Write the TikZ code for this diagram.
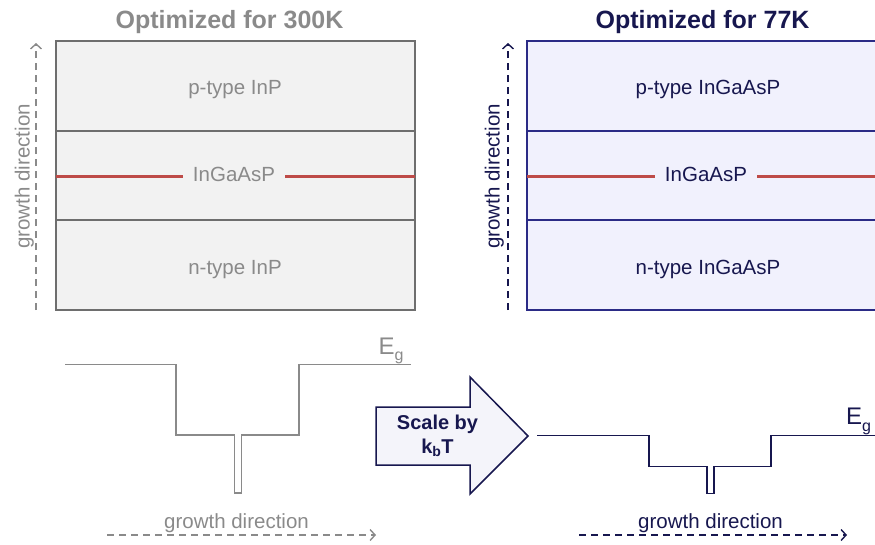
\documentclass[tikz,border=0pt]{standalone}
\usepackage{fontspec}
\setmainfont{Liberation Sans}
\usetikzlibrary{arrows.meta}
\definecolor{greytxt}{HTML}{8A8A8A}
\definecolor{greyline}{HTML}{6E6E6E}
\definecolor{greyfill}{HTML}{F2F2F2}
\definecolor{navytxt}{HTML}{17174F}
\definecolor{navyline}{HTML}{2B2B86}
\definecolor{navyfill}{HTML}{F1F1FD}
\definecolor{wellred}{HTML}{BE4B48}
\newcommand{\egap}{E\raisebox{-6.5pt}{\fontsize{16}{18}\selectfont g}}
\begin{document}
\begin{tikzpicture}[x=1pt,y=-1pt, line join=miter,
    title/.style={font=\fontsize{25}{28}\selectfont\bfseries, anchor=base, inner sep=0pt},
    layer/.style={font=\fontsize{20.5}{24}\selectfont, anchor=base, inner sep=0pt},
    midlayer/.style={layer, inner xsep=10pt},
    growth/.style={font=\fontsize{20.5}{24}\selectfont, anchor=base, inner sep=0pt},
    eglabel/.style={font=\fontsize{24}{26}\selectfont, anchor=base west, inner sep=0pt},
    gdir/.style={line width=1.4pt, dash pattern=on 7pt off 5pt, -{Straight Barb[length=5pt,width=11pt,line width=1.4pt]}},
    band/.style={line width=1.5pt}]
        \def\ytop{41} \def\ybot{310} \def\ya{131} \def\yb{220} \def\yc{176.5}
        \useasboundingbox (0,0) rectangle (875,544);
        % 300K stack
        \fill[greyfill] (56,\ytop) rectangle (415,\ybot);
        \draw[greyline, line width=1.6pt] (56,\ytop) rectangle (415,\ybot) (56,\ya) -- (415,\ya) (56,\yb) -- (415,\yb);
        \node[title, greytxt] (t300) at (229.5,28) {Optimized for 300K};
        \node[layer, greytxt] (p300) at (235,94) {p-type InP};
        \node[midlayer, greytxt] (a300) at (234,181) {InGaAsP};
        \node[layer, greytxt] (n300) at (235,274) {n-type InP};
        \draw[wellred, line width=2.5pt] (56,\yc) -- (a300.west |- 0,\yc) (a300.east |- 0,\yc) -- (415,\yc);
        \coordinate (v300a) at (36,310); \coordinate (v300b) at (36,43);
        \draw[gdir, greytxt] (v300a) -- (v300b);
        \node[growth, greytxt, rotate=90] (g300v) at (29.5,176.5) {growth direction};
        % 77K stack
        \fill[navyfill] (527,\ytop) rectangle (877,\ybot);
        \draw[navyline, line width=1.6pt] (877,\ytop) -- (527,\ytop) -- (527,\ybot) -- (877,\ybot) (527,\ya) -- (877,\ya) (527,\yb) -- (877,\yb);
        \node[title, navytxt] (t77) at (702.5,28) {Optimized for 77K};
        \node[layer, navytxt] (p77) at (708,94) {p-type InGaAsP};
        \node[midlayer, navytxt] (a77) at (706,181) {InGaAsP};
        \node[layer, navytxt] (n77) at (708,274) {n-type InGaAsP};
        \draw[wellred, line width=2.5pt] (527,\yc) -- (a77.west |- 0,\yc) (a77.east |- 0,\yc) -- (877,\yc);
        \coordinate (v77a) at (508,310); \coordinate (v77b) at (508,43);
        \draw[gdir, navytxt] (v77a) -- (v77b);
        \node[growth, navytxt, rotate=90] (g77v) at (499.5,176.5) {growth direction};
        % band edges
        \draw[band, greytxt] (65,364.7) -- (176,364.7) -- (176,435) -- (234.5,435) -- (234.5,493) -- (241.5,493) -- (241.5,435) -- (299,435) -- (299,364.7) -- (411,364.7);
        \node[eglabel, greytxt] (eg300) at (378.5,354) {\egap};
        \draw[band, navytxt] (537,435.3) -- (649,435.3) -- (649,466.7) -- (707,466.7) -- (707,493.7) -- (714,493.7) -- (714,466.7) -- (771,466.7) -- (771,435.3) -- (877,435.3);
        \node[eglabel, navytxt] (eg77) at (846,424.6) {\egap};
        \coordinate (h300a) at (107,535); \coordinate (h300b) at (376,535);
        \draw[gdir, greytxt] (h300a) -- (h300b);
        \node[growth, greytxt] (g300h) at (236.5,528) {growth direction};
        \coordinate (h77a) at (579,535); \coordinate (h77b) at (847,535);
        \draw[gdir, navytxt] (h77a) -- (h77b);
        \node[growth, navytxt] (g77h) at (710.5,528) {growth direction};
        % scaling arrow
        \draw[navytxt, fill=navyfill!80!navyline!20, line width=1.5pt] (376,407) -- (470,407) -- (470,377) -- (528,436) -- (470,494) -- (470,465) -- (376,465) -- cycle;
        \node[navytxt, font=\fontsize{20}{24}\selectfont\bfseries, align=center, inner sep=0pt] (scale) at (437.5,436) {Scale by\\k\textsubscript{b}T};
\end{tikzpicture}
\end{document}
